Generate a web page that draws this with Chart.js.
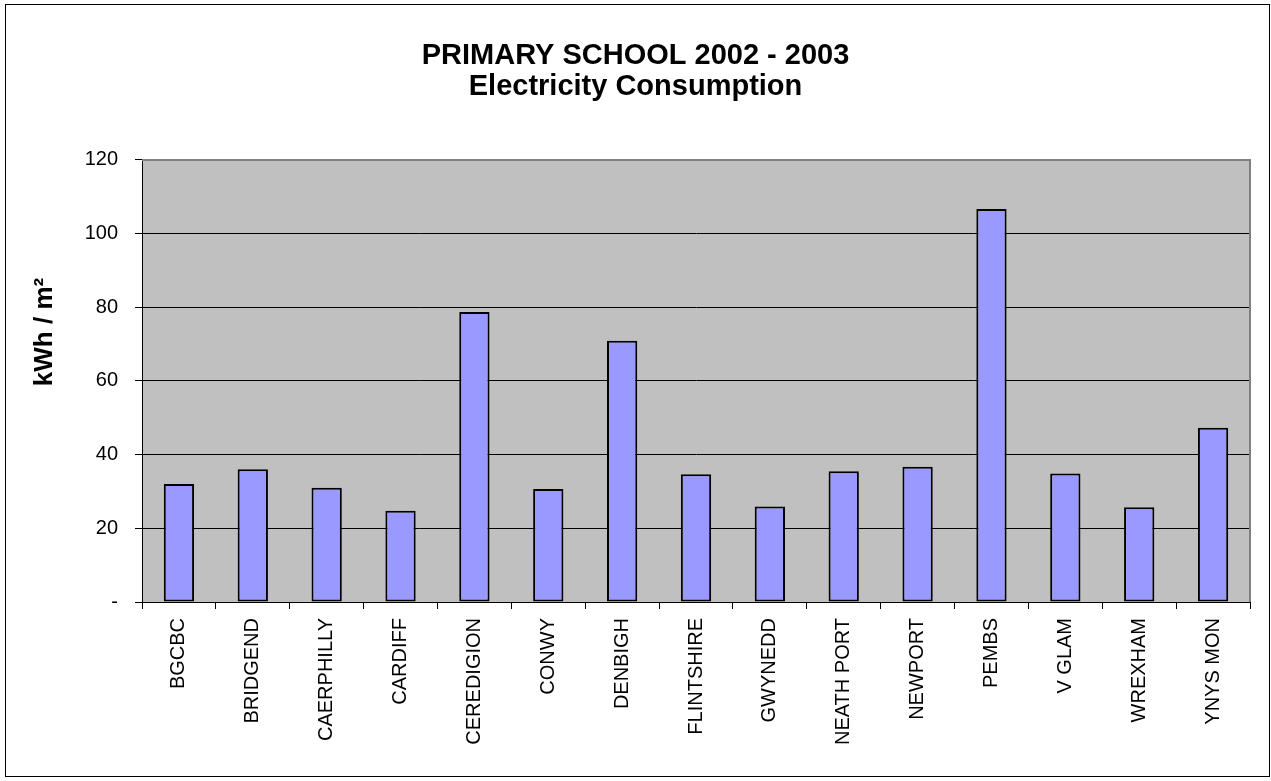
<!doctype html>
<html>

<head>
  <title>Primary School Electricity</title>
</head>
<style>
  body {
    margin: 0;
    background: #fff;
    font-family: "Liberation Sans", Arial, sans-serif;
  }

  .chartContainer {
    position: relative;
    width: 1271px;
    height: 781px;
  }
</style>

<body>
  <div class="chartContainer">
    <canvas id="plot2dId"></canvas>
  </div>
  <script src="https://cdn.jsdelivr.net/npm/chart.js@4/dist/chart.umd.min.js"></script>
  <script>
    var titleLines = ["PRIMARY SCHOOL 2002 - 2003", "Electricity Consumption"];
    var axisTitle = "kWh / m\u00b2";
    var authorities = ["BGCBC", "BRIDGEND", "CAERPHILLY", "CARDIFF", "CEREDIGION", "CONWY", "DENBIGH",
      "FLINTSHIRE", "GWYNEDD", "NEATH PORT", "NEWPORT", "PEMBS", "V GLAM", "WREXHAM", "YNYS MON"];
    var consumption = [32.0, 36.0, 31.0, 24.8, 78.7, 30.7, 70.9, 34.7, 25.9, 35.5, 36.7, 106.7, 34.9, 25.7, 47.3];
    var yTicks = [0, 20, 40, 60, 80, 100, 120];

    // grey plot background, grey frame top/right, outer border and the y axis title
    var framePlugin = {
      id: 'frame',
      beforeDraw: function (chart) {
        var ctx = chart.ctx, a = chart.chartArea;
        ctx.save();
        ctx.fillStyle = '#fff';
        ctx.fillRect(0, 0, chart.width, chart.height);
        ctx.fillStyle = '#c0c0c0';
        ctx.fillRect(a.left, a.top, a.right - a.left, a.bottom - a.top);
        ctx.restore();
      },
      afterDraw: function (chart) {
        var ctx = chart.ctx, a = chart.chartArea;
        ctx.save();
        ctx.strokeStyle = '#808080';
        ctx.lineWidth = 2;
        ctx.beginPath();
        ctx.moveTo(a.left, a.top);
        ctx.lineTo(a.right, a.top);
        ctx.lineTo(a.right, a.bottom);
        ctx.stroke();
        ctx.strokeStyle = '#000';
        ctx.lineWidth = 1;
        ctx.strokeRect(5.5, 4.5, chart.width - 7, chart.height - 9);
        // y axis title
        ctx.translate(45, 332);
        ctx.rotate(-Math.PI / 2);
        ctx.fillStyle = '#000';
        ctx.font = 'bold 26px "Liberation Sans"';
        ctx.textAlign = 'center';
        ctx.textBaseline = 'middle';
        ctx.fillText(axisTitle, 0, 0);
        ctx.restore();
      }
    };

    function renderChart() {
      var ctx = document.getElementById("plot2dId").getContext('2d');
      new Chart(ctx, {
        type: 'bar',
        data: {
          labels: authorities,
          datasets: [{
            data: consumption,
            backgroundColor: '#9999ff',
            borderColor: '#000',
            borderWidth: 2,
            borderSkipped: false,
            barPercentage: 0.41,
            categoryPercentage: 1.0
          }]
        },
        options: {
          responsive: true,
          maintainAspectRatio: false,
          devicePixelRatio: 1,
          animation: false,
          layout: { padding: 0 },
          plugins: {
            legend: { display: false },
            tooltip: { enabled: false },
            title: {
              display: true,
              text: titleLines,
              color: '#000',
              font: { family: 'Liberation Sans', size: 29, weight: 'bold', lineHeight: 1.05 },
              padding: { top: 41, bottom: 58 }
            }
          },
          scales: {
            x: {
              afterFit: function (scale) { scale.height = 179; },
              grid: { display: true, drawOnChartArea: false, color: '#000', tickLength: 7, offset: true },
              border: { color: '#000', width: 1 },
              ticks: {
                color: '#000',
                font: { family: 'Liberation Sans', size: 20 },
                minRotation: 90,
                maxRotation: 90,
                autoSkip: false,
                padding: 9
              }
            },
            y: {
              min: 0,
              max: 120,
              afterFit: function (scale) { scale.width = 142; },
              afterBuildTicks: function (scale) {
                scale.ticks = yTicks.map(function (v) { return { value: v }; });
              },
              grid: { color: '#000', tickLength: 7, lineWidth: 1 },
              border: { color: '#000', width: 1 },
              ticks: {
                color: '#000',
                font: { family: 'Liberation Sans', size: 20 },
                padding: 17,
                callback: function (v) { return v === 0 ? '-' : v; }
              }
            },
            // empty right margin so the chart area ends where the reference does
            yRight: {
              position: 'right',
              afterFit: function (scale) { scale.width = 21; },
              grid: { display: false },
              border: { display: false },
              ticks: { display: false }
            }
          }
        },
        plugins: [framePlugin]
      });
    }
    renderChart();
  </script>
</body>

</html>
